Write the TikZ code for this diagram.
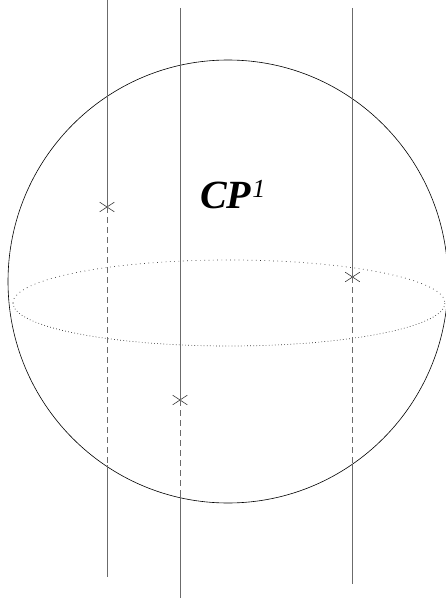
\documentclass[tikz,border=0pt]{standalone}
\usepackage{fontspec}
\setmainfont{Liberation Serif}
\usetikzlibrary{shapes.misc}
\begin{document}
\begin{tikzpicture}[x=1pt,y=-1pt,
  fibre/.style={draw=black!58, line width=0.9pt},
  hidden/.style={fibre, dash pattern=on 6pt off 4pt},
  xmark/.style={cross out, draw=black!80, line width=0.6pt, minimum width=14pt, minimum height=9pt, inner sep=0pt},
  sphere/.style={draw=black, line width=0.6pt}]
\useasboundingbox (0,0) rectangle (446,601);
% sphere
\draw[sphere] (228,281.5) ellipse [x radius=220, y radius=221.5];
% equator
\draw[black!80, line width=0.7pt, dash pattern=on 0.7pt off 3.6pt] (13,303) arc[start angle=180, end angle=0, x radius=216, y radius=-43];
\draw[black!80, line width=0.7pt, dash pattern=on 0.7pt off 2.4pt] (13,303) arc[start angle=180, end angle=360, x radius=216, y radius=-43];
% fibres
\coordinate (t1) at (107,0);
\node[xmark] (c1) at (107,207) {};
\coordinate (b1) at (107,465);
\coordinate (e1) at (107,577);
\coordinate (t2) at (180,8);
\node[xmark] (c2) at (180,400) {};
\coordinate (b2) at (180,496);
\coordinate (e2) at (180,598);
\coordinate (t3) at (352.5,8);
\node[xmark] (c3) at (352.5,277) {};
\coordinate (b3) at (352.5,465);
\coordinate (e3) at (352.5,584);
\draw[fibre] (t1) -- (c1.center);
\draw[hidden] (c1.center) -- (b1);
\draw[fibre] (b1) -- (e1);
\draw[fibre] (t2) -- (c2.center);
\draw[hidden] (c2.center) -- (b2);
\draw[fibre] (b2) -- (e2);
\draw[fibre] (t3) -- (c3.center);
\draw[hidden] (c3.center) -- (b3);
\draw[fibre] (b3) -- (e3);
% label
\node[anchor=base west, inner sep=0pt] (lbl) at (200,209) {\fontsize{40}{48}\selectfont\bfseries\itshape CP\raisebox{11pt}{\fontsize{26}{30}\selectfont\mdseries\itshape\kern1pt 1}};
\end{tikzpicture}
\end{document}
